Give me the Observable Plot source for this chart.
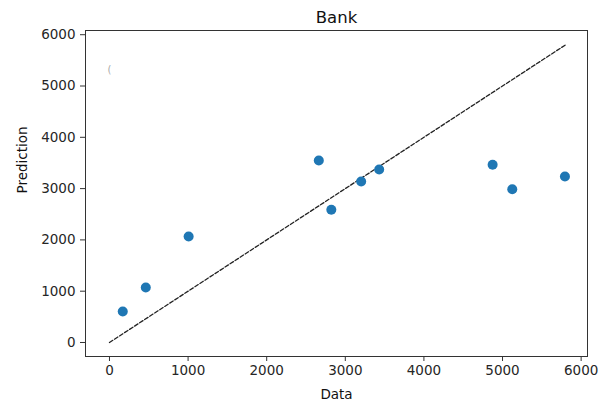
<!DOCTYPE html>
<html>
<head>
<meta charset="utf-8">
<script src="https://cdn.jsdelivr.net/npm/d3@7"></script>
<script src="https://cdn.jsdelivr.net/npm/@observablehq/plot@0.6"></script>
<style>
  html, body { margin: 0; padding: 0; background: #fff; }
</style>
</head>
<body>
<div id="chart"></div>
<script>
const title = "Bank";
const xLabel = "Data";
const yLabel = "Prediction";
const dataVals = [169, 462, 1007, 2663, 2822, 3202, 3431, 4874, 5124, 5794];
const predVals = [604, 1072, 2066, 3548, 2587, 3138, 3372, 3464, 2988, 3236];
const lineVals = [0, 5800];
const tickVals = [0, 1000, 2000, 3000, 4000, 5000, 6000];
const stray = [{x: 0, y: 5320}];

const points = dataVals.map((d, i) => ({data: d, pred: predVals[i]}));
const diag = lineVals.map(v => ({x: v, y: v}));

const chart = Plot.plot({
  width: 600,
  height: 409,
  marginLeft: 85,
  marginRight: 13,
  marginTop: 30,
  marginBottom: 53,
  style: {fontFamily: "DejaVu Sans, sans-serif", fontSize: "13.5px", color: "#262626", background: "#fff"},
  x: {domain: [-305, 6081]},
  y: {domain: [-273, 6082]},
  marks: [
    Plot.frame({stroke: "#333", strokeWidth: 1}),
    Plot.axisX({ticks: tickVals, tickSize: 5, tickPadding: 4, tickFormat: d => String(d), label: null, fontSize: 13.5, stroke: "#333"}),
    Plot.axisY({ticks: tickVals, tickSize: 5, tickPadding: 5, tickFormat: d => String(d), label: null, fontSize: 13.5, stroke: "#333"}),
    Plot.line(diag, {x: "x", y: "y", stroke: "#222", strokeWidth: 1.3, strokeDasharray: "4,2"}),
    Plot.dot(points, {x: "data", y: "pred", r: 5, fill: "#1f77b4", stroke: "none"}),
    Plot.text(stray, {x: "x", y: "y", text: () => "(", fill: "#aaa", fontSize: 10}),
    Plot.text([title], {frameAnchor: "top", dy: -19, fontSize: 16.5, fill: "#111"}),
    Plot.text([xLabel], {frameAnchor: "bottom", dy: 42, fontSize: 13.5, fill: "#111"}),
    Plot.text([yLabel], {frameAnchor: "left", dx: -63, rotate: -90, fontSize: 13.5, fill: "#111"})
  ]
});
document.getElementById("chart").appendChild(chart);
</script>
</body>
</html>
